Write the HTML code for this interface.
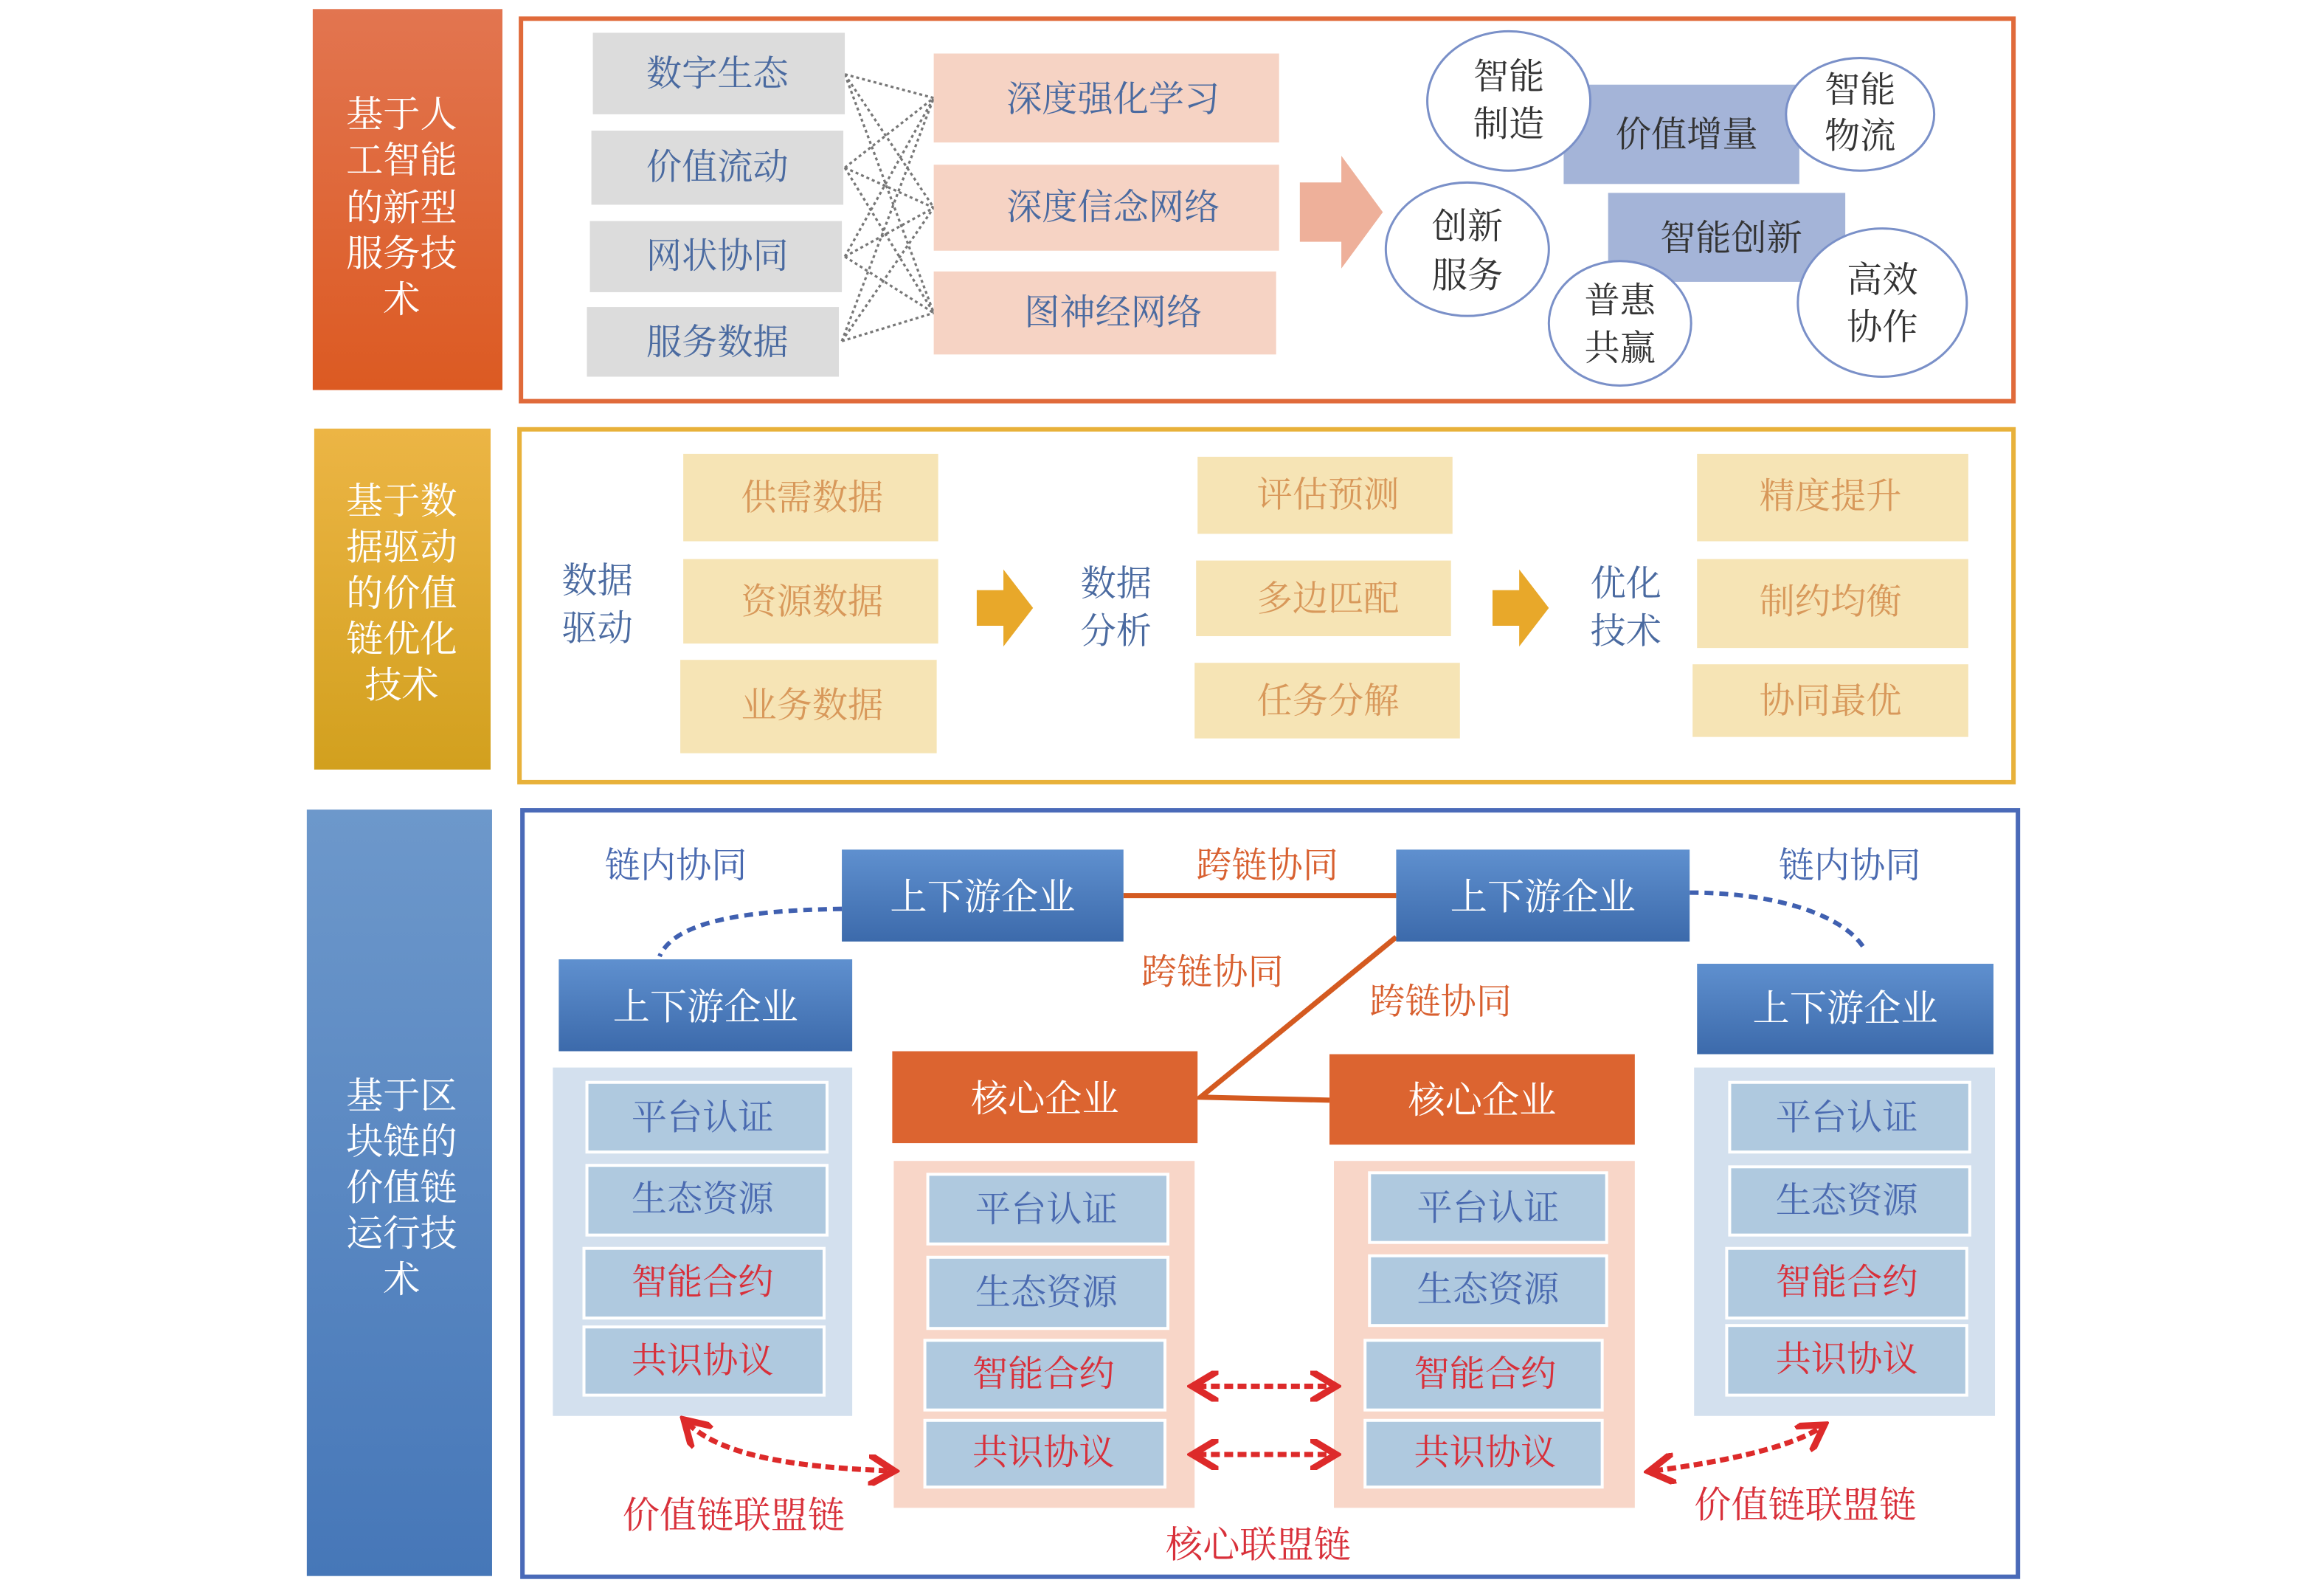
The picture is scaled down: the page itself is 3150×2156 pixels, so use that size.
<!DOCTYPE html>
<html><head><meta charset="utf-8">
<style>
html,body{margin:0;padding:0;background:#fff;}
svg{display:block;}
text{font-family:"Liberation Serif","Noto Serif CJK SC",serif;text-anchor:middle;dominant-baseline:central;}
</style></head>
<body>
<svg width="3150" height="2156" viewBox="0 0 1568 1073" xmlns="http://www.w3.org/2000/svg">
<defs>
<linearGradient id="g1" x1="0" y1="0" x2="0" y2="1"><stop offset="0" stop-color="#e27550"/><stop offset="1" stop-color="#dc5a22"/></linearGradient>
<linearGradient id="g2" x1="0" y1="0" x2="0" y2="1"><stop offset="0" stop-color="#ecb545"/><stop offset="1" stop-color="#d2a01e"/></linearGradient>
<linearGradient id="g3" x1="0" y1="0" x2="0" y2="1"><stop offset="0" stop-color="#6d98cb"/><stop offset="1" stop-color="#4677b8"/></linearGradient>
<linearGradient id="gb" x1="0" y1="0" x2="0" y2="1"><stop offset="0" stop-color="#5f90cf"/><stop offset="1" stop-color="#3c6aab"/></linearGradient>
<marker id="ar" markerWidth="6" markerHeight="6" refX="4" refY="3" orient="auto-start-reverse" markerUnits="strokeWidth"><path d="M0,0 L5,3 L0,6" fill="none" stroke="#dd2a2a" stroke-width="1.3"/></marker>
</defs>

<rect x="211" y="6" width="128" height="257" fill="url(#g1)"/>
<g fill="#fff" font-size="25"><text x="271" y="77">基于人</text><text x="271" y="108">工智能</text><text x="271" y="140">的新型</text><text x="271" y="171">服务技</text><text x="271" y="202">术</text></g>
<rect x="212" y="289" width="119" height="230" fill="url(#g2)"/>
<g fill="#fff" font-size="25"><text x="271" y="338">基于数</text><text x="271" y="369">据驱动</text><text x="271" y="400">的价值</text><text x="271" y="431">链优化</text><text x="271" y="462">技术</text></g>
<rect x="207" y="546" width="125" height="517" fill="url(#g3)"/>
<g fill="#fff" font-size="25"><text x="271" y="739">基于区</text><text x="271" y="770">块链的</text><text x="271" y="801">价值链</text><text x="271" y="832">运行技</text><text x="271" y="863">术</text></g>

<rect x="351.5" y="12.5" width="1007" height="258" fill="none" stroke="#e06a3a" stroke-width="3"/>
<g stroke="#777" stroke-width="1.6" stroke-dasharray="2,2" fill="none">
<path d="M570,50L630,66M570,50L630,140M570,50L630,211M570,113L630,66M570,113L630,140M570,113L630,211M570,173L630,66M570,173L630,140M570,173L630,211M568,230L630,66M568,230L630,140M568,230L630,211"/>
</g>
<g fill="#dcdcdc"><rect x="400" y="22" width="170" height="55"/><rect x="399" y="88" width="170" height="50"/><rect x="398" y="149" width="170" height="48"/><rect x="396" y="207" width="170" height="47"/></g>
<g fill="#4a6aa0" font-size="24"><text x="484" y="50">数字生态</text><text x="484" y="113">价值流动</text><text x="484" y="173">网状协同</text><text x="484" y="231">服务数据</text></g>
<g fill="#f6d3c4"><rect x="630" y="36" width="233" height="60"/><rect x="630" y="111" width="233" height="58"/><rect x="630" y="183" width="231" height="56"/></g>
<g fill="#4a6aa0" font-size="24"><text x="751" y="67">深度强化学习</text><text x="751" y="140">深度信念网络</text><text x="751" y="211">图神经网络</text></g>
<path d="M877,123 L905,123 L905,105 L933,143 L905,181 L905,163 L877,163 Z" fill="#eeb09a"/>
<g fill="#a4b4d8"><rect x="1055" y="57" width="159" height="67"/><rect x="1085" y="130" width="160" height="60"/></g>
<g fill="#333" font-size="24"><text x="1138" y="91">价值增量</text><text x="1168" y="161">智能创新</text></g>
<g fill="#fff" stroke="#7a90c8" stroke-width="1.5">
<ellipse cx="1018" cy="68" rx="55" ry="47"/><ellipse cx="1255" cy="77" rx="50" ry="38"/><ellipse cx="990" cy="168" rx="55" ry="45"/><ellipse cx="1093" cy="218" rx="48" ry="42"/><ellipse cx="1270" cy="204" rx="57" ry="50"/></g>
<g fill="#333" font-size="24">
<text x="1018" y="52">智能</text><text x="1018" y="84">制造</text>
<text x="1255" y="61">智能</text><text x="1255" y="92">物流</text>
<text x="990" y="153">创新</text><text x="990" y="186">服务</text>
<text x="1093" y="203">普惠</text><text x="1093" y="235">共赢</text>
<text x="1270" y="189">高效</text><text x="1270" y="221">协作</text></g>

<rect x="350.5" y="289.5" width="1008" height="238" fill="none" stroke="#e8b13a" stroke-width="3"/>
<g fill="#f6e4b5">
<rect x="461" y="306" width="172" height="59"/><rect x="461" y="377" width="172" height="57"/><rect x="459" y="445" width="173" height="63"/>
<rect x="808" y="308" width="172" height="52"/><rect x="807" y="378" width="172" height="51"/><rect x="806" y="447" width="179" height="51"/>
<rect x="1145" y="306" width="183" height="59"/><rect x="1145" y="377" width="183" height="60"/><rect x="1142" y="448" width="186" height="49"/></g>
<g fill="#d8985a" font-size="24">
<text x="548" y="336">供需数据</text><text x="548" y="406">资源数据</text><text x="548" y="476">业务数据</text>
<text x="896" y="334">评估预测</text><text x="896" y="404">多边匹配</text><text x="896" y="473">任务分解</text>
<text x="1235" y="335">精度提升</text><text x="1235" y="406">制约均衡</text><text x="1235" y="473">协同最优</text></g>
<g fill="#4a6aa0" font-size="24">
<text x="403" y="392">数据</text><text x="403" y="424">驱动</text>
<text x="753" y="394">数据</text><text x="753" y="426">分析</text>
<text x="1097" y="394">优化</text><text x="1097" y="426">技术</text></g>
<g fill="#e8a82a">
<path d="M659,398 L677,398 L677,384 L697,410 L677,436 L677,422 L659,422 Z"/>
<path d="M1007,398 L1025,398 L1025,384 L1045,410 L1025,436 L1025,422 L1007,422 Z"/></g>

<rect x="352.5" y="546.5" width="1009" height="517" fill="none" stroke="#4a6ab8" stroke-width="3"/>
<g fill="#d3e0ee"><rect x="373" y="720" width="202" height="235"/><rect x="1143" y="720" width="203" height="235"/></g>
<g fill="#f8d6c8"><rect x="603" y="783" width="203" height="234"/><rect x="900" y="783" width="203" height="234"/></g>
<g fill="#afc9df" stroke="#fff" stroke-width="2">
<rect x="396" y="730" width="162" height="47"/><rect x="396" y="786" width="162" height="47"/><rect x="394" y="842" width="162" height="47"/><rect x="394" y="895" width="162" height="46"/>
<rect x="626" y="792" width="162" height="47"/><rect x="626" y="848" width="162" height="48"/><rect x="624" y="904" width="162" height="47"/><rect x="624" y="958" width="162" height="45"/>
<rect x="924" y="791" width="160" height="47"/><rect x="924" y="847" width="160" height="47"/><rect x="921" y="904" width="160" height="47"/><rect x="921" y="958" width="160" height="45"/>
<rect x="1167" y="730" width="162" height="47"/><rect x="1167" y="787" width="162" height="46"/><rect x="1165" y="842" width="162" height="47"/><rect x="1165" y="894" width="162" height="47"/></g>
<g font-size="24">
<g fill="#4a6ab0"><text x="474" y="754">平台认证</text><text x="474" y="809">生态资源</text><text x="706" y="816">平台认证</text><text x="706" y="872">生态资源</text><text x="1004" y="815">平台认证</text><text x="1004" y="870">生态资源</text><text x="1246" y="754">平台认证</text><text x="1246" y="810">生态资源</text></g>
<g fill="#d8303a"><text x="474" y="865">智能合约</text><text x="474" y="918">共识协议</text><text x="704" y="927">智能合约</text><text x="704" y="980">共识协议</text><text x="1002" y="927">智能合约</text><text x="1002" y="980">共识协议</text><text x="1246" y="865">智能合约</text><text x="1246" y="917">共识协议</text></g></g>

<g stroke="#d45a20" stroke-width="3.5" fill="none"><path d="M758,604 L942,604 M942,632 L810,740 L897,742"/></g>
<g stroke="#4060b0" stroke-width="3" stroke-dasharray="6,4" fill="none">
<path d="M568,613 C500,614 455,622 445,645"/><path d="M1140,602 C1200,602 1245,618 1258,640"/></g>

<g fill="url(#gb)"><rect x="568" y="573" width="190" height="62"/><rect x="942" y="573" width="198" height="62"/><rect x="377" y="647" width="198" height="62"/><rect x="1145" y="650" width="200" height="61"/></g>
<g fill="#fff" font-size="25"><text x="663" y="605">上下游企业</text><text x="1041" y="605">上下游企业</text><text x="476" y="679">上下游企业</text><text x="1245" y="680">上下游企业</text></g>
<g fill="#dc6430"><rect x="602" y="709" width="206" height="62"/><rect x="897" y="711" width="206" height="61"/></g>
<g fill="#fff" font-size="25"><text x="705" y="741">核心企业</text><text x="1000" y="742">核心企业</text></g>

<g fill="#d86030" font-size="24"><text x="855" y="584">跨链协同</text><text x="818" y="656">跨链协同</text><text x="972" y="676">跨链协同</text></g>
<g fill="#4a6ab0" font-size="24"><text x="456" y="584">链内协同</text><text x="1248" y="584">链内协同</text></g>

<g stroke="#dd2a2a" stroke-width="3.5" stroke-dasharray="6,3" fill="none" marker-start="url(#ar)" marker-end="url(#ar)">
<path d="M808,935 L898,935"/><path d="M808,981 L898,981"/>
<path d="M464,960 C490,985 550,990 600,992"/>
<path d="M1116,992 C1170,985 1210,975 1228,963"/></g>
<g fill="#d8303a" font-size="25"><text x="495" y="1022">价值链联盟链</text><text x="849" y="1042">核心联盟链</text><text x="1218" y="1015">价值链联盟链</text></g>
</svg>
</body></html>
